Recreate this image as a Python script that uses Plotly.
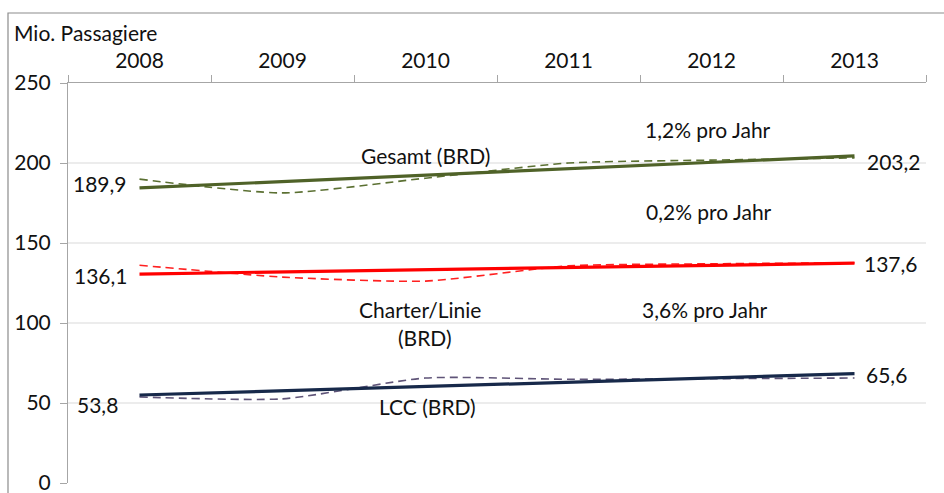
import plotly.graph_objects as go

years = ["2008", "2009", "2010", "2011", "2012", "2013"]
gesamt = [189.9, 181.3, 190.5, 200.0, 201.8, 203.2]
gesamt_trend = [184.4, 204.4]
charter = [136.1, 128.7, 126.2, 135.7, 137.0, 137.6]
charter_trend = [130.6, 137.4]
lcc = [53.8, 52.6, 65.6, 64.8, 65.2, 65.6]
lcc_trend = [55.0, 68.3]
trend_x = ["2008", "2013"]
grid_vals = [50, 100, 150, 200]

FONT = "Lato"
FS = 21

fig = go.Figure()
# dashed actual series (smoothed)
fig.add_trace(go.Scatter(x=years, y=gesamt, mode="lines", line=dict(color="#5b7032", width=1.6, dash="8px,5px", shape="spline", smoothing=0.6)))
fig.add_trace(go.Scatter(x=years, y=charter, mode="lines", line=dict(color="#ff2020", width=1.6, dash="8px,5px", shape="spline", smoothing=0.6)))
fig.add_trace(go.Scatter(x=years, y=lcc, mode="lines", line=dict(color="#5f5478", width=1.6, dash="8px,5px", shape="spline", smoothing=0.6)))
# trend lines
fig.add_trace(go.Scatter(x=trend_x, y=gesamt_trend, mode="lines", line=dict(color="#4f6228", width=3.2)))
fig.add_trace(go.Scatter(x=trend_x, y=charter_trend, mode="lines", line=dict(color="#ff0000", width=3.2)))
fig.add_trace(go.Scatter(x=trend_x, y=lcc_trend, mode="lines", line=dict(color="#17294a", width=3.2)))

shapes = []
for g in grid_vals:
    shapes.append(dict(type="line", xref="paper", yref="y", x0=0, x1=1, y0=g, y1=g,
                       line=dict(color="#d9d9d9", width=1), layer="below"))
# outer chart border
shapes.append(dict(type="rect", xref="paper", yref="paper", x0=-60/858, x1=1.2, y0=-0.2, y1=470/400,
                   line=dict(color="#8c8c8c", width=1.2), layer="below"))

ann = []
def A(text, xpx, ypx, xanchor="center"):
    ann.append(dict(text=text, xref="paper", yref="paper", x=(xpx-68)/858, y=(483-ypx)/400,
                    xanchor=xanchor, yanchor="middle", showarrow=False,
                    font=dict(family=FONT, size=FS, color="#111111")))

A("Mio. Passagiere", 12, 32, "left")
A("Gesamt (BRD)", 425, 155)
A("1,2% pro Jahr", 708, 129)
A("0,2% pro Jahr", 709, 211)
A("3,6% pro Jahr", 705, 309)
A("Charter/Linie", 420, 309)
A("(BRD)", 425, 337)
A("LCC (BRD)", 427, 406)
A("189,9", 100, 184)
A("136,1", 101, 275)
A("53,8", 97, 404)
A("203,2", 894, 161)
A("137,6", 891, 263)
A("65,6", 886, 374)

fig.update_layout(
    width=944, height=493,
    margin=dict(l=68, r=18, t=83, b=10),
    plot_bgcolor="white", paper_bgcolor="white",
    showlegend=False,
    shapes=shapes, annotations=ann,
    font=dict(family=FONT, size=FS, color="#111111"),
    xaxis=dict(type="category", side="top", categoryorder="array", categoryarray=years,
               range=[-0.5, 5.5], tickson="boundaries", ticks="outside", ticklen=7,
               tickcolor="#a6a6a6", showline=True, linecolor="#a6a6a6", linewidth=1,
               showgrid=False, zeroline=False, ticklabelstandoff=6, automargin=False,
               tickfont=dict(family=FONT, size=FS, color="#111111")),
    yaxis=dict(range=[0, 250], dtick=50, tick0=0, showgrid=False, zeroline=False,
               showline=True, linecolor="#a6a6a6", linewidth=1, ticks="outside", ticklen=7,
               tickcolor="#a6a6a6", ticklabelstandoff=5, automargin=False,
               ticklabeloverflow="allow",
               tickfont=dict(family=FONT, size=FS, color="#111111")),
)

fig.write_html("out.html", config={"displayModeBar": False},
               post_script="document.body.style.margin='0';document.body.style.overflow='hidden';")
